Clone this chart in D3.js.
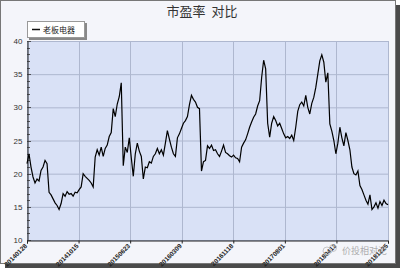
<!DOCTYPE html>
<html><head><meta charset="utf-8">
<script src="https://cdn.jsdelivr.net/npm/d3@7"></script>
<style>body{margin:0;background:#fff}svg{display:block}</style>
</head><body><svg id="c" width="400" height="268"></svg>
<script>
const title = "市盈率  对比";
const seriesName = "老板电器";
const xTickLabels = ["20140128","20141015","20150623","20160309","20161118","20170801","20180413","20181225"];
const yTicks = [10,15,20,25,30,35,40];
const peValues = [
21.5,23.0,21.0,19.5,18.6,19.2,18.9,20.5,21.0,22.0,21.5,17.2,16.8,16.2,15.6,15.2,14.6,15.5,17.0,16.6,
17.3,16.9,17.0,16.6,17.2,17.1,17.6,18.0,20.0,19.6,19.3,19.0,18.6,18.0,22.5,23.6,22.8,24.0,22.6,23.8,
24.3,25.6,26.2,29.8,28.6,30.5,31.6,33.7,21.2,24.0,23.2,25.4,22.4,19.6,23.0,24.6,23.4,22.6,19.2,21.0,
20.9,21.8,21.6,22.6,23.0,23.8,23.0,23.6,22.8,24.6,26.5,25.2,24.0,23.0,22.6,25.4,26.0,26.8,27.6,28.0,
28.6,30.4,31.8,31.2,30.8,30.0,29.8,20.4,21.8,22.0,24.2,23.8,24.3,23.5,23.6,23.0,22.6,23.4,24.3,23.2,
23.0,22.7,22.5,22.8,22.4,22.3,21.8,24.0,24.6,25.1,26.0,27.0,27.8,28.5,29.0,30.2,31.0,34.5,37.1,35.8,
27.6,25.5,27.6,28.6,28.0,27.2,27.6,26.8,26.0,25.4,25.6,25.3,25.8,25.0,27.0,29.4,30.4,30.8,30.2,31.8,
30.0,29.0,30.6,31.5,33.0,35.0,37.0,37.9,36.8,33.8,35.2,27.5,26.4,25.0,23.0,24.6,27.0,25.4,24.2,26.2,
25.0,23.6,21.0,20.0,19.8,20.4,18.2,17.6,16.8,16.0,15.4,16.8,14.6,15.0,15.6,14.8,15.8,15.2,16.0,15.5,
15.3
];

const svg = d3.select("#c");
const L = 27, R = 388, T = 41, B = 240;

svg.append("rect").attr("x",0).attr("y",0).attr("width",400).attr("height",268).attr("fill","#fff");
svg.append("rect").attr("x",5).attr("y",5).attr("width",395).attr("height",263).attr("fill","#4a4a4a");
svg.append("rect").attr("x",0.5).attr("y",0.5).attr("width",395).attr("height",263).attr("fill","#f4f5fa").attr("stroke","#777");

svg.append("text").attr("x",202).attr("y",16).attr("text-anchor","middle")
  .attr("font-family","'Noto Sans CJK SC', sans-serif").attr("font-size",13).attr("fill","#333")
  .style("white-space","pre").text(title);

const x = d3.scaleLinear().domain([0, peValues.length-1]).range([L, R]);
const xt = d3.scaleLinear().domain([0, xTickLabels.length-1]).range([L, R]);
const y = d3.scaleLinear().domain([10, 40]).range([B, T]);

svg.append("rect").attr("x",L).attr("y",T).attr("width",R-L).attr("height",B-T).attr("fill","#d9e1f6");

svg.append("g").selectAll("line").data(yTicks).join("line")
  .attr("x1",L).attr("x2",R).attr("y1",d=>y(d)+0.5).attr("y2",d=>y(d)+0.5)
  .attr("stroke","#aeb7cf").attr("stroke-width",1);
svg.append("g").selectAll("line").data(xTickLabels).join("line")
  .attr("x1",(d,i)=>Math.round(xt(i))+0.5).attr("x2",(d,i)=>Math.round(xt(i))+0.5)
  .attr("y1",T).attr("y2",B).attr("stroke","#aeb7cf").attr("stroke-width",1);

const yAxis = d3.axisLeft(y).tickValues(yTicks).tickSize(0).tickPadding(5);
const gy = svg.append("g").attr("transform",`translate(${L+0.5},0)`).call(yAxis);
gy.select(".domain").attr("stroke","#222");
gy.selectAll("text").attr("font-family","Arial, 'Liberation Sans', sans-serif").attr("font-size",8).attr("fill","#333");
const minor = d3.range(10, 40.01, 1);
svg.append("g").selectAll("line").data(minor).join("line")
  .attr("x1",L).attr("x2",d=>d%5===0?L+4:L+3).attr("y1",d=>Math.round(y(d))+0.5).attr("y2",d=>Math.round(y(d))+0.5)
  .attr("stroke","#333").attr("stroke-width",0.8);

const xAxis = d3.axisBottom(xt).tickValues(d3.range(xTickLabels.length)).tickFormat(i=>xTickLabels[i]).tickSize(3).tickPadding(2);
const gx = svg.append("g").attr("transform",`translate(0,${B+0.5})`).call(xAxis);
gx.select(".domain").attr("stroke","#222");
gx.selectAll(".tick line").attr("stroke","#222");
gx.selectAll("text").attr("font-family","Arial, 'Liberation Sans', sans-serif").attr("font-size",6.5).attr("font-weight","bold").attr("fill","#222")
  .attr("text-anchor","end").attr("dy",0).attr("y",0)
  .attr("transform","translate(0,6) rotate(-45)");

const line = d3.line().x((d,i)=>x(i)).y(d=>y(d));
svg.append("path").datum(peValues).attr("d",line).attr("fill","none").attr("stroke","#000").attr("stroke-width",1.2);

svg.append("rect").attr("x",29).attr("y",23).attr("width",58).attr("height",17).attr("fill","#888");
svg.append("rect").attr("x",27.5).attr("y",21.5).attr("width",57).attr("height",16).attr("fill","#fff").attr("stroke","#999");
svg.append("line").attr("x1",32).attr("x2",40).attr("y1",29.5).attr("y2",29.5).attr("stroke","#111").attr("stroke-width",1.5);
svg.append("text").attr("x",43).attr("y",32.5).attr("font-family","'Noto Sans CJK SC', sans-serif").attr("font-size",8).attr("fill","#222").text(seriesName);

const wm = svg.append("g").attr("opacity",0.8);
wm.append("circle").attr("cx",327).attr("cy",251).attr("r",4).attr("fill","none").attr("stroke","#bbb");
wm.append("circle").attr("cx",333).attr("cy",248).attr("r",3.5).attr("fill","none").attr("stroke","#bbb");
wm.append("text").attr("x",342).attr("y",254).attr("font-family","'Noto Sans CJK SC', sans-serif").attr("font-size",9).attr("fill","#999").text("价投相对论");
</script></body></html>
